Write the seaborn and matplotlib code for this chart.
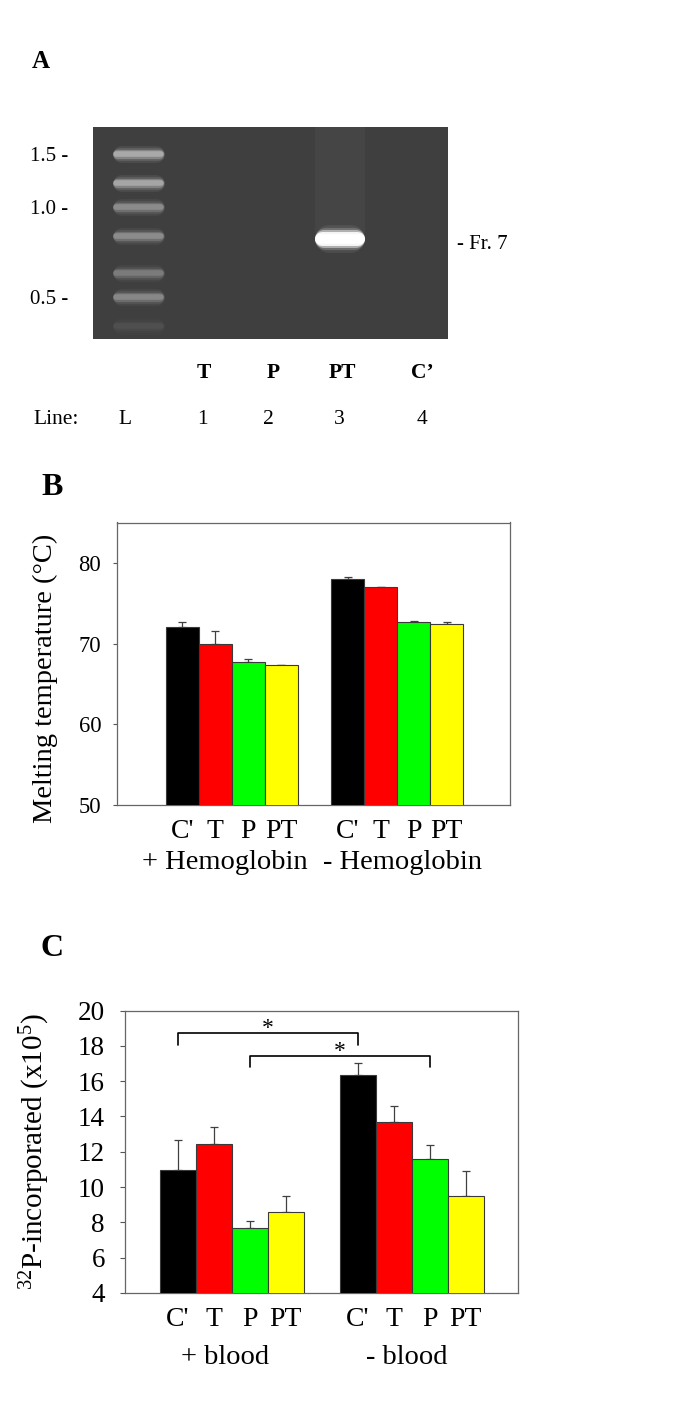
import numpy as np
import pandas as pd
import seaborn as sns
import matplotlib.pyplot as plt
from matplotlib import transforms
from matplotlib.ticker import NullLocator, NullFormatter

# ---- panel A: agarose gel ----
ladder_kb = [1.5, 1.2, 1.0, 0.8, 0.6, 0.5, 0.4]
ladder_glow = [0.9, 0.85, 0.6, 0.6, 0.45, 0.55, 0.12]
fr7_kb = 0.78
fr7_glow = 1.0
size_ticks = [1.5, 1.0, 0.5]
lane_names = ["T", "P", "PT", "C\u2019"]
lane_numbers = ["L", "1", "2", "3", "4"]

# ---- panel B: melting temperature ----
treatments = ["C'", "T", "P", "PT"]
tm_plus_hb = [72.1, 70.0, 67.7, 67.3]
tm_plus_hb_err = [0.6, 1.6, 0.4, 0.1]
tm_minus_hb = [78.0, 77.0, 72.7, 72.4]
tm_minus_hb_err = [0.3, 0.05, 0.1, 0.3]

# ---- panel C: 32P incorporation ----
p32_plus_blood = [10.95, 12.46, 7.66, 8.56]
p32_plus_blood_err = [1.70, 0.96, 0.43, 0.96]
p32_minus_blood = [16.36, 13.69, 11.58, 9.47]
p32_minus_blood_err = [0.64, 0.92, 0.83, 1.43]
sig_pairs = [(0, 5), (2, 7)]
sig_bracket_y = [18.7, 17.43]
sig_leg_y = [18.07, 16.78]

colors = {"C'": "#000000", "T": "#ff0000", "P": "#00ff00", "PT": "#ffff00"}

sns.set_style("white")
plt.rcParams["font.family"] = ["Liberation Serif", "DejaVu Serif"]
plt.rcParams["mathtext.fontset"] = "custom"
plt.rcParams["mathtext.rm"] = "Liberation Serif"
plt.rcParams["mathtext.it"] = "Liberation Serif:italic"
for key in ["text.color", "axes.labelcolor", "xtick.color", "ytick.color"]:
    plt.rcParams[key] = "black"

W, H = 685, 1408
fig = plt.figure(figsize=(W / 100, H / 100), dpi=100)


def px_axes(left, top, right, bottom):
    return fig.add_axes([left / W, 1 - bottom / H, (right - left) / W, (bottom - top) / H])


def px_text(x, y, s, **kw):
    fig.text(x / W, 1 - y / H, s, **kw)


# ---------------- A ----------------
px_text(32, 62, "A", fontsize=18, fontweight="bold", va="center")
gel = px_axes(92.7, 126.7, 448, 339.3)
gel.set_facecolor("#3f3f3f")
gel.set_yscale("log")
gel.set_ylim(0.36, 1.85)
gel.set_xlim(-0.68, 4.61)
for s in gel.spines.values():
    s.set_visible(False)

# faint smear above the PT band
gel.axvspan(2.63, 3.37, ymin=0.5, ymax=1.0, color="white", alpha=0.035, lw=0)

lane_px = 67.2  # pixels per lane unit


def band(kb, lane, half, layers, glow):
    for lw, alpha in layers:
        h = half - lw * 100 / 72 / 2 / lane_px
        gel.hlines(kb, lane - h, lane + h, colors="white", lw=lw,
                   alpha=min(1, alpha * glow), capstyle="round")


ladder_layers = [(12, 0.07), (9, 0.12), (6.5, 0.2), (4, 0.28)]
for kb, glow in zip(ladder_kb, ladder_glow):
    band(kb, 0, 0.38, ladder_layers, glow * 1.2)
band(fr7_kb, 3, 0.37, [(20, 0.07), (16, 0.18), (13, 0.45), (10, 0.9), (7, 1.0)], fr7_glow)

gel.set_yticks(size_ticks, labels=[f"{v:.1f} -" for v in size_ticks])
gel.yaxis.set_minor_locator(NullLocator())
gel.yaxis.set_minor_formatter(NullFormatter())
gel.set_xticks([])
gel.tick_params(axis="y", length=0, pad=17.8, labelsize=15)
fr_trans = transforms.offset_copy(
    transforms.blended_transform_factory(gel.transAxes, gel.transData),
    fig=fig, y=-6, units="dots")
gel.text(1.025, fr7_kb, "- Fr. 7", fontsize=15, va="center", transform=fr_trans)

for x, s in zip([204, 273, 342, 422], lane_names):
    px_text(x, 373, s, fontsize=15.5, fontweight="bold", ha="center", va="center")
px_text(33, 420, "Line:", fontsize=15.5, va="center")
for x, s in zip([125, 202, 268, 339, 422], lane_numbers):
    px_text(x, 420, s, fontsize=15.5, ha="center", va="center")


# ---------------- bar panels ----------------
def bar_panel(ax, plus, plus_err, minus, minus_err, groups):
    keys = [f"{groups[0]} {t}" for t in treatments] + [f"{groups[1]} {t}" for t in treatments]
    order = keys[:4] + ["gap"] + keys[4:]
    df = pd.DataFrame({
        "bar": keys,
        "treatment": treatments * 2,
        "value": plus + minus,
        "err": plus_err + minus_err,
    })
    sns.barplot(data=df, x="bar", y="value", hue="treatment", order=order,
                hue_order=treatments, palette=colors, saturation=1, dodge=False,
                width=1, edgecolor="#3a3a3a", linewidth=0.8, errorbar=None,
                legend=False, ax=ax, zorder=3)
    xpos = [order.index(b) for b in df["bar"]]
    ax.errorbar(xpos, df["value"], yerr=[np.zeros(len(df)), df["err"]], fmt="none",
                ecolor="#404040", elinewidth=0.9, capsize=3.2, capthick=0.9, zorder=2)
    ax.set_xticks(xpos, labels=treatments * 2)
    ax.set_xlabel("")
    for s in ax.spines.values():
        s.set_visible(True)
        s.set_color("#666666")
        s.set_linewidth(0.9)
    return xpos


# ---------------- B ----------------
px_text(41, 487, "B", fontsize=23, fontweight="bold", va="center")
axb = px_axes(117, 522.5, 510, 805)
bar_panel(axb, tm_plus_hb, tm_plus_hb_err, tm_minus_hb, tm_minus_hb_err,
          ["+ Hemoglobin", "- Hemoglobin"])
axb.set_xlim(-1.98, 9.92)
axb.set_ylim(50, 85)
axb.set_yticks([50, 60, 70, 80])
axb.tick_params(axis="y", direction="out", length=3, width=0.8, color="#555555",
                pad=8.4, labelsize=16.3, left=True)
axb.tick_params(axis="x", length=0, pad=10, labelsize=20)
axb.set_ylabel("Melting temperature (°C)", fontsize=20.5)
axb.yaxis.set_label_coords(-0.150, 0.449)
tb = axb.get_xaxis_transform()
axb.text(1.27, -0.205, "+ Hemoglobin", transform=tb, ha="center", va="center", fontsize=20.5)
axb.text(6.65, -0.205, "- Hemoglobin", transform=tb, ha="center", va="center", fontsize=20.5)

# ---------------- C ----------------
px_text(40, 948, "C", fontsize=23, fontweight="bold", va="center")
axc = px_axes(125, 1010.5, 518, 1293)
bar_panel(axc, p32_plus_blood, p32_plus_blood_err, p32_minus_blood, p32_minus_blood_err,
          ["+ blood", "- blood"])
axc.set_xlim(-1.47, 9.45)
axc.set_ylim(4, 20)
axc.set_yticks(range(4, 21, 2))
axc.tick_params(axis="y", direction="out", length=3.6, width=0.8, color="#555555",
                pad=10.8, labelsize=19.5, left=True)
axc.tick_params(axis="x", length=0, pad=10, labelsize=20)
axc.set_ylabel(r"$^{32}$P-incorporated (x10$^{5}$)", fontsize=21)
axc.yaxis.set_label_coords(-0.1865, 0.5)
tc = axc.get_xaxis_transform()
axc.text(1.3, -0.23, "+ blood", transform=tc, ha="center", va="center", fontsize=20.5)
axc.text(6.35, -0.23, "- blood", transform=tc, ha="center", va="center", fontsize=20.5)

for (a, b), yb, yl in zip(sig_pairs, sig_bracket_y, sig_leg_y):
    axc.plot([a, a, b, b], [yl, yb, yb, yl], color="black", lw=1.2, zorder=4)
    axc.text((a + b) / 2, yb - 0.05, "*", ha="center", va="baseline", fontsize=17)

fig.savefig("out.png", dpi=100)
